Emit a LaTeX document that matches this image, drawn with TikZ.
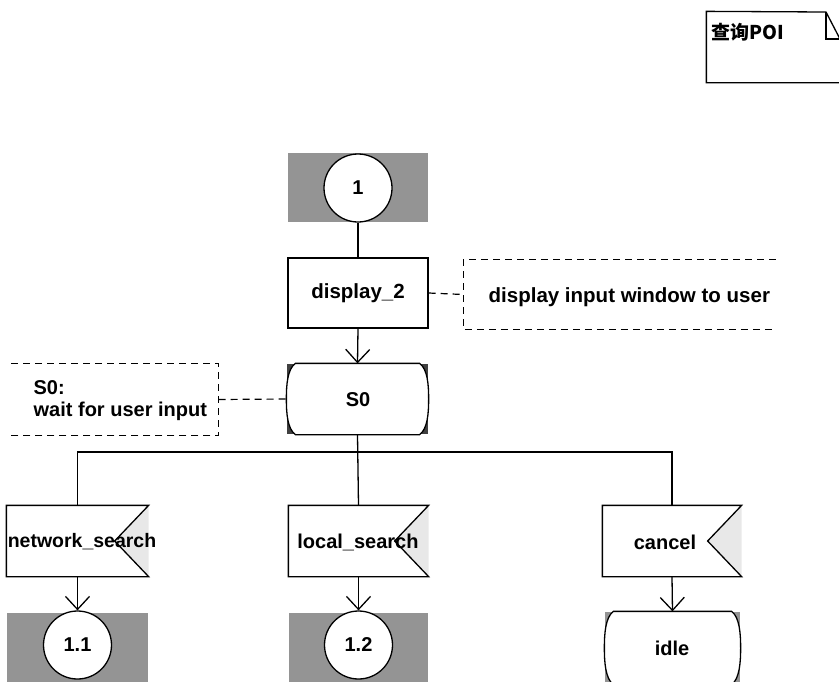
\documentclass[tikz,border=0pt]{standalone}
\usepackage{fontspec}
\setmainfont{Liberation Sans}
\newfontfamily\cjk{Noto Sans CJK SC}
\usetikzlibrary{arrows.meta,calc}

\tikzset{
  lbl/.style={font=\fontsize{20}{22}\selectfont\bfseries, inner sep=0pt},
  hatch/.style={fill=black!42},
  conn/.style={circle, draw, fill=white, minimum size=68pt, inner sep=0pt,
               font=\fontsize{20}{22}\selectfont\bfseries},
  taskbox/.style={rectangle, draw, fill=white, minimum width=140pt,
                  minimum height=70pt, inner sep=0pt,
                  font=\fontsize{20.5}{22}\selectfont\bfseries},
  frame/.style={rectangle, draw=none, inner sep=0pt, minimum height=70pt},
  dsh/.style={dash pattern=on 7pt off 5pt, line width=1.2pt},
  arr/.style={-{Straight Barb[length=13pt,width=24pt]}},
}

% SDL state outline: flat top and bottom, bulging sides
\newcommand{\sdlstate}[1]{%
  \draw[fill=white]
    ([xshift=9pt]#1.north west) -- ([xshift=-9pt]#1.north east)
    .. controls ([xshift=-1pt,yshift=-6pt]#1.north east) and ([yshift=14pt]#1.east) .. (#1.east)
    .. controls ([yshift=-14pt]#1.east) and ([xshift=-1pt,yshift=6pt]#1.south east) .. ([xshift=-9pt]#1.south east)
    -- ([xshift=9pt]#1.south west)
    .. controls ([xshift=1pt,yshift=6pt]#1.south west) and ([yshift=-14pt]#1.west) .. (#1.west)
    .. controls ([yshift=14pt]#1.west) and ([xshift=1pt,yshift=-6pt]#1.north west) .. cycle;}

% SDL input signal: box with a notch cut into its right side
\newcommand{\sdlinput}[1]{%
  \fill[gray!18] (#1.north east) -- ([xshift=-34pt]#1.east) -- (#1.south east) -- cycle;
  \draw (#1.north west) -- (#1.north east) -- ([xshift=-34pt]#1.east)
        -- (#1.south east) -- (#1.south west) -- cycle;}

\begin{document}
\begin{tikzpicture}[x=1pt, y=-1pt, line width=1.3pt]
\useasboundingbox (0,0) rectangle (839,681);
\clip (0,0) rectangle (839,681);

% page header note with folded corner
\node[frame, minimum width=133pt, minimum height=70pt] (note) at (773.5,47) {};
\draw (note.south west) -- (note.north west) -- (826,12) -- (840,39) -- (note.south east) -- cycle;
\draw (826,12) -- (826,39) -- (840,39);
\node[anchor=west, inner sep=0pt, font=\fontsize{19}{22}\selectfont\bfseries] (title) at (711,32) {\cjk 查询POI};

% start connector
\fill[hatch] (288,153) rectangle (428,222);
\node[conn] (c1) at (358,188) {1};

% task
\node[taskbox] (disp) at (358,293) {display\_2};
\draw (c1) -- (disp);

% state S0
\fill[black!75] (287,364) rectangle (428,434);
\node[frame, minimum width=141pt] (s0) at (357.5,399) {};
\sdlstate{s0}
\node[lbl] (s0t) at (358,400) {S0};
\draw[arr] (disp.south) -- (s0.north);

% comment on the task
\node[frame, minimum width=311pt, minimum height=69pt] (cm1) at (619.5,294.5) {};
\draw[dsh] (cm1.north east) -- (cm1.north west) -- (cm1.south west) -- (cm1.south east);
\draw[dsh] (disp.east) -- (cm1.west);
\node[lbl, anchor=west, font=\fontsize{20.5}{22}\selectfont\bfseries] (cm1t) at (488,297) {display input window to user};

% comment on the state
\node[frame, minimum width=206pt, minimum height=71pt] (cm2) at (115,399.5) {};
\draw[dsh] (cm2.north west) -- (cm2.north east) -- (cm2.south east) -- (cm2.south west);
\draw[dsh] (cm2.east) -- (s0.west);
\node[lbl, anchor=west, align=left] (cm2t) at (33,401) {S0:\\wait for user input};

% input signals
\node[frame, minimum width=141pt] (ns) at (77.5,541) {};
\node[frame, minimum width=139pt] (ls) at (358.5,541) {};
\node[frame, minimum width=138pt] (cn) at (672,541) {};
\sdlinput{ns}
\sdlinput{ls}
\sdlinput{cn}
\node[lbl, font=\fontsize{19.5}{22}\selectfont\bfseries] (nst) at (82,542) {network\_search};
\node[lbl] (lst) at (358,542) {local\_search};
\node[lbl] (cnt) at (665,542) {cancel};

% branching from S0
\coordinate (bus) at (358.5,452);
\draw (s0.south) -- (ls.north);
\draw (ns.north) |- (bus) -| (cn.north);

% targets
\fill[hatch] (7,613) rectangle (148,700);
\node[conn] (c11) at (77.5,645) {1.1};
\fill[hatch] (289,613) rectangle (428,700);
\node[conn] (c12) at (358.5,645) {1.2};
\fill[hatch] (605,612) rectangle (740,700);
\node[frame, minimum width=135pt, minimum height=72pt] (idle) at (672.5,648) {};
\sdlstate{idle}
\node[lbl] (idlet) at (672,648) {idle};

\draw[arr] (ns.south) -- (c11.north);
\draw[arr] (ls.south) -- (c12.north);
\draw[arr] (cn.south) -- (idle.north);
\end{tikzpicture}
\end{document}
